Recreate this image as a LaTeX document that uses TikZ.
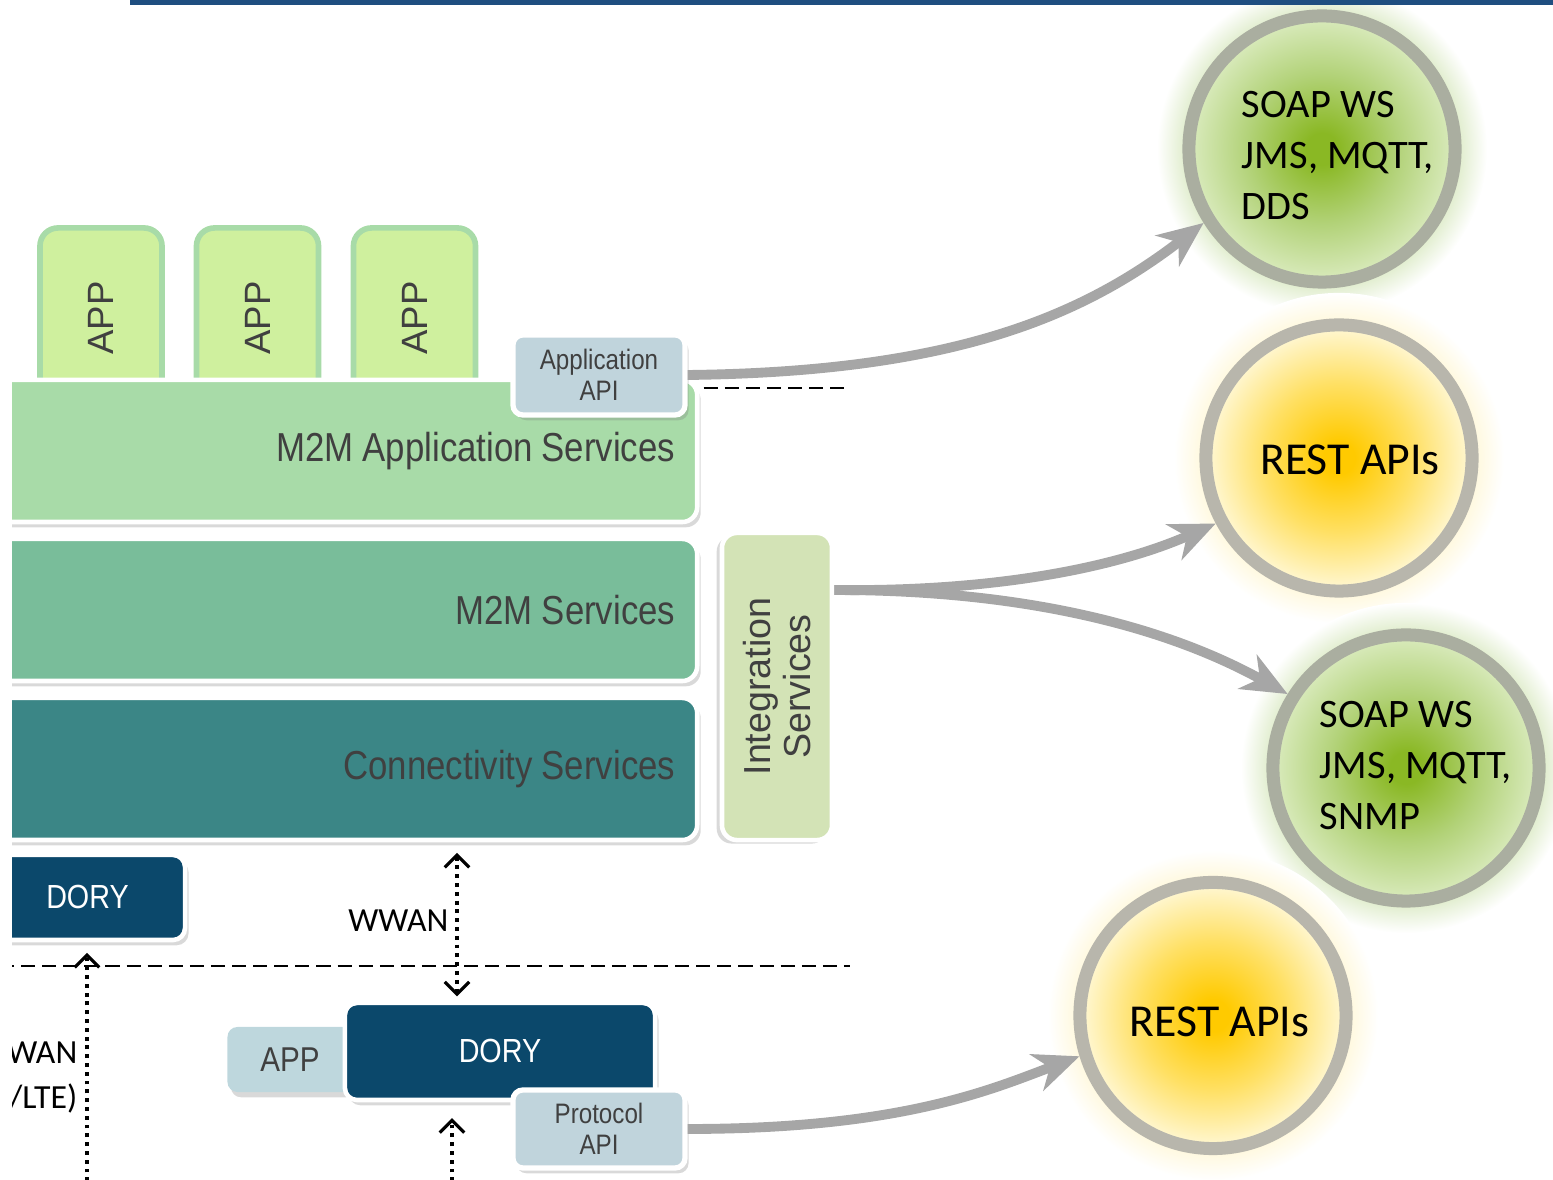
\documentclass[tikz,border=0pt]{standalone}
\usepackage{fontspec}
\setmainfont{Liberation Sans}
\newfontfamily\narrowsans[FakeStretch=0.86]{Liberation Sans}
\newfontfamily\calibrifont{Carlito}
\usetikzlibrary{%
  positioning,
  calc,
  shadows,
  arrows.meta,
}

\definecolor{barblue}{RGB}{31,78,128}
\definecolor{appgreen}{RGB}{207,240,158}
\definecolor{appedge}{RGB}{168,219,168}
\definecolor{appsvc}{RGB}{168,219,168}
\definecolor{m2msvc}{RGB}{121,189,154}
\definecolor{connsvc}{RGB}{59,134,134}
\definecolor{integsvc}{RGB}{211,227,182}
\definecolor{apiblue}{RGB}{192,212,220}
\definecolor{lowappblue}{RGB}{190,215,221}
\definecolor{doryblue}{RGB}{11,72,107}
\definecolor{boxtext}{RGB}{64,64,64}
\definecolor{flowgray}{RGB}{166,166,166}
\definecolor{ringgreen}{RGB}{170,174,160}
\definecolor{ringyellow}{RGB}{184,182,172}
\definecolor{coregreen}{RGB}{138,184,36}
\definecolor{midgreen}{RGB}{178,210,120}
\definecolor{rimgreen}{RGB}{218,235,190}
\definecolor{halogreen}{RGB}{226,238,208}
\definecolor{coreyellow}{RGB}{255,202,0}
\definecolor{midyellow}{RGB}{255,224,100}
\definecolor{rimyellow}{RGB}{255,248,215}
\definecolor{haloyellow}{RGB}{255,249,224}

% narrow layer captions with tight word gaps
\newcommand\layerfont{%
  \narrowsans\fontsize{11.5}{13}\selectfont
  \spaceskip 0.22em plus 0.02em\relax}

% shadings for the protocol balls (the path edge sits at 25bp)
\pgfdeclareradialshading{ballgreenshade}{\pgfpointorigin}{%
  color(0bp)=(coregreen); color(3bp)=(coregreen); color(14bp)=(midgreen);
  color(25bp)=(rimgreen); color(50bp)=(rimgreen)}
\pgfdeclareradialshading{ballyellowshade}{\pgfpointorigin}{%
  color(0bp)=(coreyellow); color(3bp)=(coreyellow); color(14bp)=(midyellow);
  color(25bp)=(rimyellow); color(50bp)=(rimyellow)}
\pgfdeclareradialshading{glowgreenshade}{\pgfpointorigin}{%
  color(0bp)=(halogreen); color(21bp)=(halogreen); color(25bp)=(white); color(50bp)=(white)}
\pgfdeclareradialshading{glowyellowshade}{\pgfpointorigin}{%
  color(0bp)=(haloyellow); color(21bp)=(haloyellow); color(25bp)=(white); color(50bp)=(white)}

\begin{document}
\begin{tikzpicture}[%
    % one unit is one pixel of the slide, y runs downwards
    x=0.01cm, y=-0.01cm,
    >={Straight Barb[length=3.5pt,width=7pt]},
    appbox/.style={
      % The shape (turned on its side):
      rectangle, rotate=90,
      rounded corners=0.18cm,
      minimum width=1.8cm, minimum height=1.22cm,
      % The border:
      draw=appedge, line width=1.6pt,
      % The filling:
      fill=appgreen,
      % The text:
      text=boxtext, font=\fontsize{10.4}{12}\selectfont,
    },
    layer/.style={
      rectangle, rounded corners=0.15cm,
      minimum height=1.42cm,
      text width=7.03cm, inner xsep=0.22cm, align=flush right,
      draw=white, line width=1.3pt,
      drop shadow={opacity=0.3, shadow xshift=1pt, shadow yshift=-1.5pt},
      text=boxtext, font=\layerfont,
    },
    integbox/.style={
      rectangle, rotate=90, rounded corners=0.15cm,
      minimum width=3.07cm, minimum height=1.1cm, align=center,
      fill=integsvc, draw=white, line width=1.3pt,
      drop shadow={opacity=0.3, shadow xshift=-1.5pt, shadow yshift=-1pt},
      text=boxtext, font=\fontsize{10.7}{11.6}\selectfont,
    },
    apibox/.style={
      rectangle, rounded corners=0.1cm,
      minimum width=1.72cm, minimum height=0.8cm, align=center,
      fill=apiblue, draw=white, line width=1.5pt,
      drop shadow={opacity=0.3, shadow xshift=1pt, shadow yshift=-1.5pt},
      text=boxtext, font=\narrowsans\fontsize{8}{8.8}\selectfont,
    },
    dorybox/.style={
      rectangle, rounded corners=0.12cm,
      minimum height=0.85cm,
      fill=doryblue, draw=white, line width=1.3pt,
      drop shadow={opacity=0.3, shadow xshift=1pt, shadow yshift=-1.5pt},
      text=white, font=\narrowsans\fontsize{9.5}{11}\selectfont,
    },
    lowapp/.style={
      rectangle, rounded corners=0.1cm,
      minimum width=1.25cm, minimum height=0.65cm,
      fill=lowappblue,
      drop shadow={opacity=0.3, shadow xshift=1pt, shadow yshift=-1.5pt},
      text=boxtext, font=\narrowsans\fontsize{9.8}{11}\selectfont,
    },
    separator/.style={
      black, line width=0.7pt,
      dash pattern=on 4pt off 2pt,
    },
    link/.style={
      black, line width=0.9pt,
      dash pattern=on 1.1pt off 1.4pt,
    },
    linklabel/.style={
      inner sep=0pt,
      font=\calibrifont\fontsize{9.6}{12.8}\selectfont,
    },
    flow/.style={
      draw=flowgray, line width=2.8pt,
      -{Stealth[length=13pt,width=11pt,inset=4pt]},
    },
    greenhalo/.style={circle, inner sep=0pt, minimum size=3.3cm, shade, shading=glowgreenshade},
    yellowhalo/.style={circle, inner sep=0pt, minimum size=3.3cm, shade, shading=glowyellowshade},
    greenball/.style={
      circle, inner sep=0pt, minimum size=2.66cm,
      draw=ringgreen, line width=3.7pt,
      shade, shading=ballgreenshade,
    },
    yellowball/.style={
      circle, inner sep=0pt, minimum size=2.66cm,
      draw=ringyellow, line width=3.7pt,
      shade, shading=ballyellowshade,
    },
    balltext/.style={
      inner sep=0pt, align=left,
      font=\calibrifont\fontsize{11.5}{14.5}\selectfont,
    },
    resttext/.style={
      inner sep=0pt,
      font=\calibrifont\fontsize{13}{15}\selectfont,
    },
  ]

  \useasboundingbox (0,0) rectangle (1553,1180);
  \clip (12,0) rectangle (1553,1180);

  % apps sitting on the stack
  \node[appbox] (appA) at (101,318) {APP};
  \node[appbox] (appB) at (257.5,318) {APP};
  \node[appbox] (appC) at (414.5,318) {APP};

  % the service layers
  \node[layer, fill=appsvc] (appsvc) at (323.5,451) {M2M Application Services};
  \node[layer, fill=m2msvc] (m2msvc) at (323.5,610) {M2M Services};
  \node[layer, fill=connsvc] (connsvc) at (323.5,769) {Connectivity Services};
  \node[integbox] (integ) at (777,686.5) {Integration\\Services};
  \node[apibox] (appapi) at (599,375) {Application\\API};

  % gateways
  \node[dorybox, minimum width=1.95cm] (doryt) at (87.5,897.5) {DORY};
  \node[lowapp] (lowapp) at (290,1059.5) {APP};
  \node[dorybox, minimum width=3.1cm, minimum height=0.97cm] (doryb) at (500,1051.5) {DORY};
  \node[apibox, minimum height=0.78cm] (protapi) at (599,1129) {Protocol\\API};

  % separators
  \coordinate (sepAend) at (850,388);
  \coordinate (sepBstart) at (0,966);
  \coordinate (sepBend) at (850,966);
  \draw[separator] ($(appapi.east |- sepAend)+(16,0)$) -- (sepAend);
  \draw[separator] (sepBstart) -- (sepBend);

  % network links
  \coordinate (wwanx) at (457,0);
  \coordinate (wanfoot) at (87,1190);
  \coordinate (lanfoot) at (452,1190);
  \draw[link, <->, shorten <=3pt, shorten >=1.2pt] (connsvc.south -| wwanx) -- (doryb.north -| wwanx);
  \node[linklabel, anchor=east] (wwan) at (449,921) {WWAN};
  \draw[link, ->, shorten >=3pt] (wanfoot) -- (doryt.south -| wanfoot);
  \node[linklabel, anchor=east, align=right] (wanlabel) at (78,1078) {WAN\\/LTE)};
  \draw[link, ->, shorten >=4.5pt] (lanfoot) -- (doryb.south -| lanfoot);

  % protocol balls
  \node[greenhalo] (wsAhalo) at (1322,149) {};
  \node[yellowhalo] (restBhalo) at (1339,458) {};
  \node[greenhalo] (wsChalo) at (1406,768) {};
  \node[yellowhalo] (restDhalo) at (1213,1015.5) {};

  \node[greenball] (wsA) at (1322,149) {};
  \node[balltext] (wsAtext) at (1338,156) {SOAP WS\\JMS, MQTT,\\DDS};
  \node[yellowball] (restB) at (1339,458) {};
  \node[resttext] (restBtext) at (1350,460) {REST APIs};
  \node[greenball] (wsC) at (1406,768) {};
  \node[balltext] (wsCtext) at (1416,766) {SOAP WS\\JMS, MQTT,\\SNMP};
  \node[yellowball] (restD) at (1213,1015.5) {};
  \node[resttext] (restDtext) at (1219.5,1022) {REST APIs};

  % flows out of the platform
  % (integ is turned, so its south anchor is the right side)
  \coordinate (flowrow) at (0,590);
  \draw[flow] (appapi.east) .. controls (950,372) and (1080,318) .. (wsA.212);
  \draw[flow] (integ.south |- flowrow) .. controls (1000,592) and (1120,566) .. (restB.208);
  \draw[flow] (integ.south |- flowrow) .. controls (1000,590) and (1150,618) .. (wsC.148);
  \draw[flow] (protapi.east) .. controls (900,1129) and (990,1090) .. (restD.197);

  % header bar, on top of everything
  \fill[barblue] (130,0) rectangle (1553,5);
\end{tikzpicture}
\end{document}
